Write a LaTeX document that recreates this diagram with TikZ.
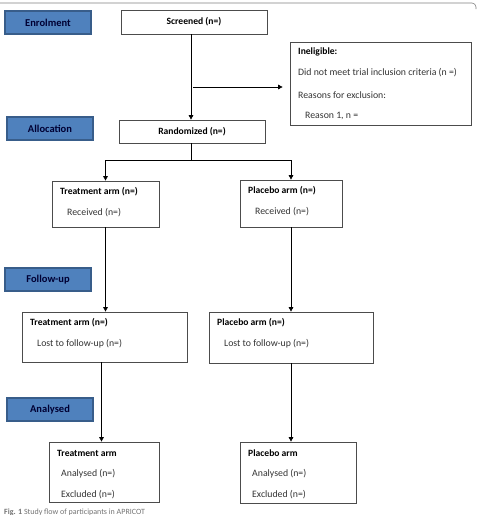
\documentclass[tikz,border=0pt]{standalone}
\usepackage{fontspec}
\setmainfont{Carlito}
\usetikzlibrary{arrows.meta}
\definecolor{stage}{HTML}{4F81BD}
\definecolor{stageline}{HTML}{385D8A}
\begin{document}
\begin{tikzpicture}[x=1pt,y=-1pt,
  box/.style={draw=black!70,line width=0.7pt,inner sep=0pt},
  stagebox/.style={draw=stageline,fill=stage,line width=1.1pt,minimum width=86pt,minimum height=23pt,inner sep=0pt,font=\bfseries\fontsize{10.5}{11}\selectfont,text=black!80!blue},
  txt/.style={anchor=west,inner sep=0pt,font=\fontsize{9.8}{10}\selectfont,text=black!80},
  hd/.style={txt,font=\bfseries\fontsize{9.6}{10}\selectfont,text=black},
  arr/.style={-{Triangle[width=4.5pt,length=4.5pt]},line width=0.7pt}]
\useasboundingbox (0,0) rectangle (478,515);
\draw[black!50,line width=0.6pt] (0,3) -- (472,3) to[out=0,in=90] (476,7) -- (476,9);
% stages
\node[stagebox] (enrol) at (48,22.5) {Enrolment};
\node[stagebox] (alloc) at (50,128.5) {Allocation};
\node[stagebox] (follow) at (48,279.5) {Follow-up};
\node[stagebox] (analys) at (50,409.5) {Analysed};
% boxes
\node[box,minimum width=146pt,minimum height=24pt,font=\bfseries\fontsize{9.6}{10}\selectfont] (scr) at (194,22) {Screened (n=)};
\node[box,minimum width=181pt,minimum height=83pt] (inel) at (380.5,83.5) {};
\node[box,minimum width=146pt,minimum height=23pt,font=\bfseries\fontsize{9.6}{10}\selectfont] (rand) at (192,131.5) {Randomized (n=)};
\node[box,minimum width=107pt,minimum height=46pt] (tr1) at (105.5,204) {};
\node[box,minimum width=102pt,minimum height=47pt] (pl1) at (291,203.5) {};
\node[box,minimum width=165pt,minimum height=50pt] (tr2) at (104.5,337) {};
\node[box,minimum width=164pt,minimum height=51pt] (pl2) at (291,337.5) {};
\node[box,minimum width=110pt,minimum height=60pt] (tr3) at (104,472) {};
\node[box,minimum width=116pt,minimum height=61pt] (pl3) at (298,472.5) {};
% texts
\node[hd] (inelh) at (298,52) {Ineligible:};
\node[txt] (inela) at (298,73) {Did not meet trial inclusion criteria (n =)};
\node[txt] (inelb) at (298,95) {Reasons for exclusion:};
\node[txt] (inelc) at (305,116) {Reason 1, n =};
\node[hd] (tr1h) at (60,192) {Treatment arm (n=)};
\node[txt] (tr1a) at (67,213) {Received (n=)};
\node[hd] (pl1h) at (248,191) {Placebo arm (n=)};
\node[txt] (pl1a) at (255,212) {Received (n=)};
\node[hd] (tr2h) at (30,323) {Treatment arm (n=)};
\node[txt] (tr2a) at (37,344) {Lost to follow-up (n=)};
\node[hd] (pl2h) at (217,323) {Placebo arm (n=)};
\node[txt] (pl2a) at (224,344) {Lost to follow-up (n=)};
\node[hd] (tr3h) at (57,453) {Treatment arm};
\node[txt] (tr3a) at (61,474) {Analysed (n=)};
\node[txt] (tr3b) at (61,495) {Excluded (n=)};
\node[hd] (pl3h) at (248,453) {Placebo arm};
\node[txt] (pl3a) at (252,474) {Analysed (n=)};
\node[txt] (pl3b) at (252,495) {Excluded (n=)};
\node[anchor=west,inner sep=0pt,font=\fontsize{8}{8}\selectfont,text=black!55] (cap) at (4,512) {\textbf{Fig. 1} Study flow of participants in APRICOT};
% connectors
\coordinate (trunk) at (191,87);
\coordinate (split) at (191,160);
\draw[arr] (scr.south -| trunk) -- (rand.north -| trunk);
\draw[arr,shorten >=7pt] ([xshift=2pt]trunk) -- (trunk -| inel.west);
\draw (rand.south -| split) -- (split);
\draw[arr] (split) -| (tr1.north);
\draw[arr] (split) -| (pl1.north);
\draw[arr] (tr1.south) -- (tr1.south |- tr2.north);
\draw[arr] (pl1.south) -- (pl2.north);
\draw[arr] ([xshift=-3pt]tr2.south) -- ([xshift=-3pt]tr2.south |- tr3.north);
\draw[arr] (pl2.south) -- (pl2.south |- pl3.north);
\end{tikzpicture}
\end{document}
